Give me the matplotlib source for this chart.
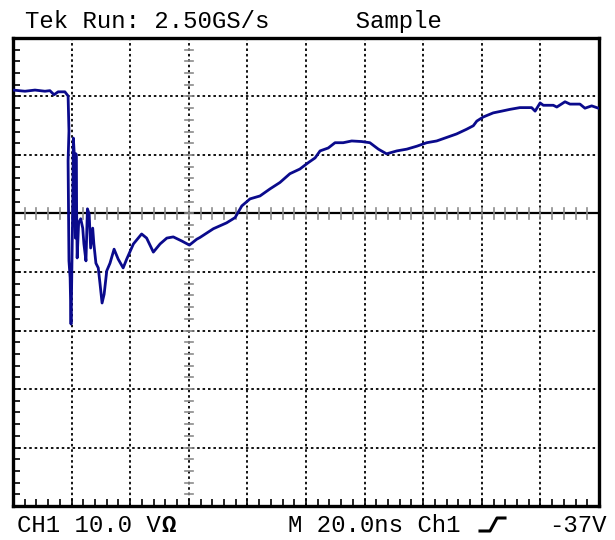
# Tek scope capture: CH1 10 V/div, 20 ns/div

import numpy as np
import matplotlib
matplotlib.use("Agg")
import matplotlib.pyplot as plt
from matplotlib.lines import Line2D

# trace (time in ns, voltage in V)
t_ns = [0, 4.1, 7.5, 10.9, 12.6, 14.0, 15.4, 17.7, 18.8, 19.1, 18.8, 19.1, 19.5, 19.8,
        20.0, 20.4, 20.6, 20.9, 21.3, 21.5, 21.9, 22.4, 23.1, 23.8, 24.2, 24.9, 25.4,
        26.0, 26.5, 27.2, 27.6, 28.3, 29.1, 29.7, 30.4, 31.1, 32.0, 33.1, 34.5, 35.9,
        37.6, 38.8, 41.1, 43.9, 45.6, 47.9, 50.2, 52.5, 54.7, 57.6, 60.2, 62.7, 63.8,
        68.4, 72.9, 75.8, 78.1, 80.9, 84.3, 87.7, 91.1, 94.5, 97.9, 100.8, 103.1, 104.8,
        107.6, 109.9, 112.7, 115.6, 119.0, 121.8, 124.7, 127.5, 131.0, 134.4, 137.8,
        141.2, 144.6, 148.0, 151.4, 154.8, 157.1, 158.3, 160.5, 163.9, 166.8, 169.6,
        173.0, 177.0, 178.2, 179.9, 181.0, 184.4, 185.6, 188.4, 190.1, 193.5, 195.2,
        197.5, 199.8]
v_ch1 = [21.1, 20.9, 21.1, 20.9, 21.0, 20.3, 20.8, 20.8, 20.1, 14.1, 9.0, -8.1, -11.0, -18.9,
         -12.7, 1.6, 12.9, 10.2, -4.2, 10.2, -7.6, -1.6, -0.9, -2.5, -5.2, -8.1, 0.8,
         -0.1, -5.9, -2.5, -5.2, -8.5, -9.3, -12.0, -15.3, -13.8, -9.8, -8.5, -6.1, -7.8,
         -9.3, -7.8, -5.2, -3.5, -4.2, -6.6, -5.2, -4.2, -4.0, -4.7, -5.4, -4.4, -4.1,
         -2.6, -1.6, -0.7, 1.3, 2.5, 3.0, 4.2, 5.3, 6.8, 7.6, 8.7, 9.5, 10.7,
         11.2, 12.1, 12.1, 12.4, 12.3, 12.1, 11.0, 10.2, 10.7, 11.0, 11.5,
         12.1, 12.4, 13.0, 13.6, 14.4, 15.0, 15.8, 16.5, 17.2, 17.5, 17.8,
         18.1, 18.1, 17.5, 18.9, 18.5, 18.5, 18.2, 19.1, 18.7, 18.7, 18.0,
         18.4, 18.0]

# screen settings
ns_per_div = 20
v_per_div = 10
x_divs = 10
y_top = 30
y_bottom = -50
axis_t = 60  # vertical axis with minor marks

W, H = 615, 540
fig = plt.figure(figsize=(W / 100, H / 100), dpi=100)
fig.patch.set_facecolor("white")
ax = fig.add_axes([13 / W, 34 / H, 586 / W, 468 / H])
ax.set_xlim(0, ns_per_div * x_divs)
ax.set_ylim(y_bottom, y_top)

dot = (0, (1.4, 1.6))
# graticule
for xg in np.arange(ns_per_div, ns_per_div * x_divs, ns_per_div):
    ax.axvline(xg, color="black", lw=1.3, ls=dot, zorder=1)
for yg in np.arange(y_bottom + v_per_div, y_top, v_per_div):
    if yg == 0:
        ax.axhline(0, color="black", lw=1.6, zorder=1)
    else:
        ax.axhline(yg, color="black", lw=1.3, ls=dot, zorder=1)

# minor marks on centre lines
for xm in np.arange(0, ns_per_div * x_divs + 0.1, ns_per_div / 5):
    ax.plot([xm, xm], [-1.0, 1.0], color="#8c8c8c", lw=1.2, zorder=1)
for ym in np.arange(y_bottom, y_top + 0.1, v_per_div / 5):
    ax.plot([axis_t - 1.4, axis_t + 1.4], [ym, ym], color="#8c8c8c", lw=1.2, zorder=1)

# trace
ax.plot(t_ns, v_ch1, color="#0a0a8c", lw=2.0, zorder=3)

# frame ticks
ax.set_xticks(np.arange(0, 201, 4))
ax.set_yticks(np.arange(y_bottom, y_top + 1, 2))
ax.tick_params(direction="in", length=5, width=1.2, colors="black",
               labelbottom=False, labelleft=False, top=False, right=False)
for s in ax.spines.values():
    s.set_linewidth(2.4)
    s.set_color("black")

# screen text
font = dict(family="Liberation Mono", size=17.3, color="black", va="baseline")
fig.text(25 / W, 1 - 28 / H, "Tek Run: 2.50GS/s      Sample", **font)
fig.text(17 / W, 1 - 532 / H, "CH1 10.0 V", **font)
fig.text(161 / W, 1 - 532 / H, "Ω", fontweight="bold", **font)
fig.text(288 / W, 1 - 532 / H, "M 20.0ns Ch1", **font)
fig.text(607 / W, 1 - 532 / H, "-37V", ha="right", **font)

# rising-edge trigger glyph
xs = np.array([480, 490, 497, 505]) / W
ys = 1 - np.array([531, 531, 518, 518]) / H
fig.add_artist(Line2D(xs, ys, color="black", lw=2.2, transform=fig.transFigure))

fig.savefig("out.png", dpi=100, facecolor="white")
